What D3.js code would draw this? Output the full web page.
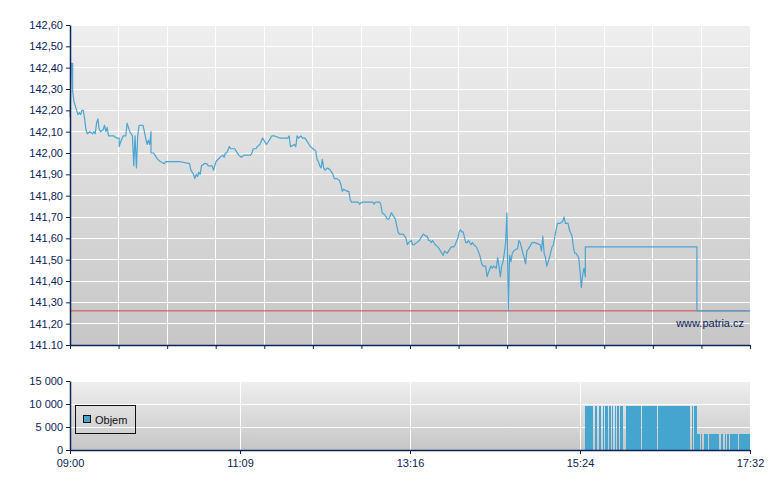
<!DOCTYPE html>
<html>
<head>
<meta charset="utf-8">
<script src="https://cdn.jsdelivr.net/npm/d3@7"></script>
<style>
body { margin: 0; background: #fff; }
text { font-family: "Liberation Sans", Arial, sans-serif; }
</style>
</head>
<body>
<div id="chart-area"></div>
<script>
// intraday trades - price line on top, volume (Objem) below

let priceTimes = ["09:00","09:01","09:02","09:02","09:03","09:05","09:06","09:07","09:08","09:09",
	"09:10","09:11","09:12","09:13","09:15","09:17","09:18","09:19","09:20","09:21",
	"09:22","09:23","09:25","09:26","09:27","09:28","09:29","09:31","09:33","09:35",
	"09:37","09:37","09:38","09:40","09:42","09:43","09:44","09:45","09:46","09:47",
	"09:48","09:49","09:50","09:51","09:52","09:54","09:55","09:57","09:58","09:59",
	"10:00","10:01","10:01","10:03","10:04","10:06","10:08","10:11","10:12","10:17",
	"10:22","10:30","10:31","10:33","10:34","10:35","10:36","10:37","10:38","10:39",
	"10:41","10:43","10:44","10:47","10:48","10:49","10:50","10:53","10:55","10:56",
	"10:57","10:58","11:00","11:01","11:04","11:05","11:07","11:09","11:11","11:12",
	"11:16","11:17","11:18","11:20","11:21","11:23","11:25","11:26","11:28","11:30",
	"11:32","11:34","11:38","11:44","11:45","11:46","11:49","11:50","11:51","11:52",
	"11:54","11:55","11:57","12:00","12:01","12:03","12:05","12:06","12:07","12:08",
	"12:09","12:10","12:11","12:12","12:14","12:16","12:18","12:19","12:21","12:23",
	"12:24","12:25","12:26","12:29","12:30","12:31","12:32","12:34","12:35","12:37",
	"12:38","12:40","12:44","12:48","12:49","12:50","12:53","12:54","12:55","12:57",
	"12:59","13:00","13:02","13:03","13:05","13:06","13:07","13:08","13:10","13:11",
	"13:13","13:14","13:15","13:17","13:18","13:19","13:21","13:23","13:26","13:28",
	"13:29","13:30","13:31","13:32","13:33","13:35","13:37","13:39","13:41","13:42",
	"13:44","13:45","13:47","13:49","13:50","13:52","13:53","13:54","13:55","13:56",
	"13:58","13:59","14:00","14:02","14:03","14:04","14:06","14:08","14:09","14:10",
	"14:11","14:13","14:14","14:15","14:17","14:18","14:19","14:21","14:22","14:23",
	"14:24","14:25","14:26","14:27","14:28","14:29","14:30","14:31","14:32","14:33",
	"14:34","14:36","14:37","14:38","14:39","14:41","14:42","14:43","14:44","14:46",
	"14:48","14:50","14:54","14:55","14:56","14:57","14:58","14:59","15:01","15:03",
	"15:04","15:06","15:07","15:09","15:11","15:12","15:13","15:15","15:16","15:18",
	"15:19","15:20","15:21","15:22","15:23","15:24","15:25","15:26","15:27","15:28",
	"15:28","16:52","16:52","17:32"];

let prices = [142.17,142.42,142.42,142.29,142.24,142.20,142.18,142.19,142.18,142.20,
	142.20,142.16,142.11,142.09,142.10,142.09,142.10,142.09,142.14,142.16,
	142.11,142.10,142.11,142.13,142.10,142.12,142.08,142.08,142.08,142.07,
	142.07,142.03,142.05,142.08,142.08,142.14,142.12,142.10,142.09,142.08,
	141.94,142.08,141.93,142.08,142.13,142.13,142.13,142.07,142.04,142.06,
	142.04,142.10,142.00,142.00,141.99,141.97,141.96,141.95,141.96,141.96,
	141.96,141.95,141.92,141.90,141.88,141.90,141.89,141.91,141.90,141.94,
	141.95,141.95,141.94,141.94,141.92,141.94,141.96,141.98,141.99,141.98,
	142.00,142.00,142.03,142.02,142.02,142.01,141.99,141.98,141.99,141.99,
	141.99,142.00,142.02,142.02,142.03,142.04,142.07,142.06,142.04,142.06,
	142.08,142.08,142.07,142.07,142.08,142.03,142.04,142.03,142.08,142.07,
	142.08,142.07,142.07,142.04,142.03,142.02,142.01,141.97,141.96,141.94,
	141.93,141.97,141.93,141.92,141.93,141.92,141.90,141.88,141.88,141.87,
	141.85,141.82,141.83,141.82,141.82,141.78,141.77,141.77,141.77,141.77,
	141.76,141.77,141.77,141.77,141.76,141.77,141.77,141.76,141.72,141.71,
	141.69,141.69,141.72,141.71,141.69,141.66,141.63,141.62,141.62,141.62,
	141.60,141.57,141.58,141.59,141.57,141.57,141.58,141.59,141.62,141.61,
	141.61,141.59,141.59,141.58,141.59,141.57,141.56,141.54,141.52,141.54,
	141.53,141.54,141.56,141.56,141.57,141.60,141.63,141.64,141.63,141.63,
	141.58,141.58,141.59,141.57,141.58,141.57,141.56,141.53,141.51,141.48,
	141.47,141.47,141.42,141.44,141.47,141.46,141.47,141.46,141.51,141.47,
	141.42,141.47,141.49,141.53,141.58,141.72,141.26,141.52,141.49,141.53,
	141.54,141.55,141.55,141.59,141.58,141.53,141.51,141.48,141.54,141.56,
	141.58,141.58,141.57,141.54,141.61,141.53,141.51,141.47,141.51,141.56,
	141.57,141.64,141.67,141.67,141.68,141.70,141.67,141.67,141.64,141.61,
	141.56,141.53,141.53,141.52,141.51,141.45,141.37,141.43,141.46,141.42,
	141.56,141.56,141.26,141.26];

let refPrice = 141.26;

// volume blocks (from - to, volume)
let volStart = ["15:28","15:35","15:38","15:41","15:43","15:46","15:48","15:50","15:52","15:54",
	"15:59","16:11","16:23","16:48","16:50",
	"16:52","16:55","16:57","17:01","17:10","17:13","17:15","17:17","17:24"];
let volEnd = ["15:34","15:37","15:40","15:42","15:45","15:47","15:49","15:51","15:53","15:56",
	"16:10","16:22","16:47","16:49","16:52",
	"16:54","16:56","17:00","17:09","17:12","17:14","17:16","17:23","17:32"];
let volValues = [9600,9600,9600,9600,9600,9600,9600,9600,9600,9600,
	9600,9600,9600,9600,9600,
	3500,3500,3500,3500,3500,3500,3500,3500,3500];

let priceTicks = [141.1,141.2,141.3,141.4,141.5,141.6,141.7,141.8,141.9,142.0,142.1,142.2,142.3,142.4,142.5,142.6];
let priceTickLabels = ["141.10","141,20","141,30","141,40","141,50","141,60","141,70","141,80",
	"141,90","142,00","142,10","142,20","142,30","142,40","142,50","142,60"];
let volTicks = [0, 5000, 10000, 15000];
let volTickLabels = ["0", "5 000", "10 000", "15 000"];
let timeLabels = ["09:00", "11:09", "13:16", "15:24", "17:32"];

let navy = "#0d2357";
let parseTime = d3.timeParse("%H:%M");
let t0 = parseTime("09:00"), t1 = parseTime("17:32");
let minorTimes = d3.range(15).map(i => d3.interpolateDate(t0, t1)(i / 14));
let majorTimes = d3.range(5).map(i => d3.interpolateDate(t0, t1)(i / 4));

let svg = d3.select("#chart-area").append("svg")
	.attr("width", 780)
	.attr("height", 490)

let grad = svg.append("defs").append("linearGradient")
	.attr("id", "bg")
	.attr("x1", 0).attr("y1", 0).attr("x2", 0).attr("y2", 1);
grad.append("stop").attr("offset", "0%").attr("stop-color", "#efefef");
grad.append("stop").attr("offset", "100%").attr("stop-color", "#c6c6c6");

let x = d3.scaleTime().domain([t0, t1]).range([70, 750]);
let y = d3.scaleLinear().domain([141.1, 142.6]).range([345, 25]);
let yVol = d3.scaleLinear().domain([0, 15000]).range([450, 381]);

// panel backgrounds
svg.append("rect").attr("x", 70).attr("y", 25).attr("width", 680).attr("height", 320).attr("fill", "url(#bg)");
svg.append("rect").attr("x", 70).attr("y", 381).attr("width", 680).attr("height", 69).attr("fill", "url(#bg)");

// grid lines
let grid = svg.append("g").attr("stroke", "#fff").attr("stroke-width", 1).attr("shape-rendering", "crispEdges");
grid.selectAll(".gx").data(minorTimes.slice(1)).enter().append("line")
	.attr("x1", d => x(d)).attr("x2", d => x(d)).attr("y1", 25).attr("y2", 345);
grid.selectAll(".gy").data(priceTicks.slice(1)).enter().append("line")
	.attr("x1", 70).attr("x2", 750).attr("y1", d => y(d)).attr("y2", d => y(d));
grid.selectAll(".vx").data(majorTimes.slice(1)).enter().append("line")
	.attr("x1", d => x(d)).attr("x2", d => x(d)).attr("y1", 381).attr("y2", 450);
grid.selectAll(".vy").data(volTicks.slice(1)).enter().append("line")
	.attr("x1", 70).attr("x2", 750).attr("y1", d => yVol(d)).attr("y2", d => yVol(d));

// reference line
svg.append("line")
	.attr("x1", 70).attr("x2", 750)
	.attr("y1", y(refPrice)).attr("y2", y(refPrice))
	.attr("stroke", "#cc4a4a")
	.attr("stroke-width", 1)

// price line
let trades = priceTimes.map((t, i) => ({ t: parseTime(t), p: prices[i] }));
let line = d3.line().x(d => x(d.t)).y(d => y(d.p));
svg.append("path")
	.datum(trades)
	.attr("d", line)
	.attr("fill", "none")
	.attr("stroke", "#4aa5d2")
	.attr("stroke-width", 1.2)
	.attr("stroke-linejoin", "round")

// volume
let vol = volValues.map((v, i) => ({ a: parseTime(volStart[i]), b: parseTime(volEnd[i]), v: v }));
svg.selectAll(".bar").data(vol).enter().append("rect")
	.attr("class", "bar")
	.attr("x", d => x(d.a))
	.attr("width", d => x(d.b) - x(d.a))
	.attr("y", d => yVol(d.v))
	.attr("height", d => 450 - yVol(d.v))
	.attr("fill", "#46a5cf")
	.attr("shape-rendering", "crispEdges")

// axes
function styleAxis(g) {
	g.select(".domain").attr("stroke", navy).attr("stroke-width", 1.5);
	g.selectAll(".tick line").attr("stroke", navy);
	g.selectAll("text").attr("fill", navy).style("font-size", "11px").style("font-family", "'Liberation Sans', Arial, sans-serif");
}

svg.append("g").attr("transform", "translate(70,0)")
	.call(d3.axisLeft(y).tickValues(priceTicks).tickFormat((d, i) => priceTickLabels[i]).tickSize(4).tickSizeOuter(0).tickPadding(3))
	.call(styleAxis);
svg.append("g").attr("transform", "translate(0,345)")
	.call(d3.axisBottom(x).tickValues(minorTimes).tickFormat("").tickSize(4).tickSizeOuter(0))
	.call(styleAxis);

svg.append("g").attr("transform", "translate(70,0)")
	.call(d3.axisLeft(yVol).tickValues(volTicks).tickFormat((d, i) => volTickLabels[i]).tickSize(4).tickSizeOuter(0).tickPadding(3))
	.call(styleAxis);
svg.append("g").attr("transform", "translate(0,450)")
	.call(d3.axisBottom(x).tickValues(majorTimes).tickFormat((d, i) => timeLabels[i]).tickSize(4).tickSizeOuter(0).tickPadding(5))
	.call(styleAxis);

// legend
svg.append("rect").attr("x", 75.5).attr("y", 405.5).attr("width", 60).attr("height", 28)
	.attr("fill", "none").attr("stroke", "#111");
svg.append("rect").attr("x", 83.5).attr("y", 415.5).attr("width", 7).attr("height", 7)
	.attr("fill", "#46a5cf").attr("stroke", "#111");
svg.append("text").attr("x", 95).attr("y", 424).text("Objem")
	.attr("fill", "#111").style("font-size", "11px");

// watermark
svg.append("text").attr("x", 744).attr("y", 327).attr("text-anchor", "end")
	.text("www.patria.cz").attr("fill", navy).style("font-size", "11px");
</script>
</body>
</html>
